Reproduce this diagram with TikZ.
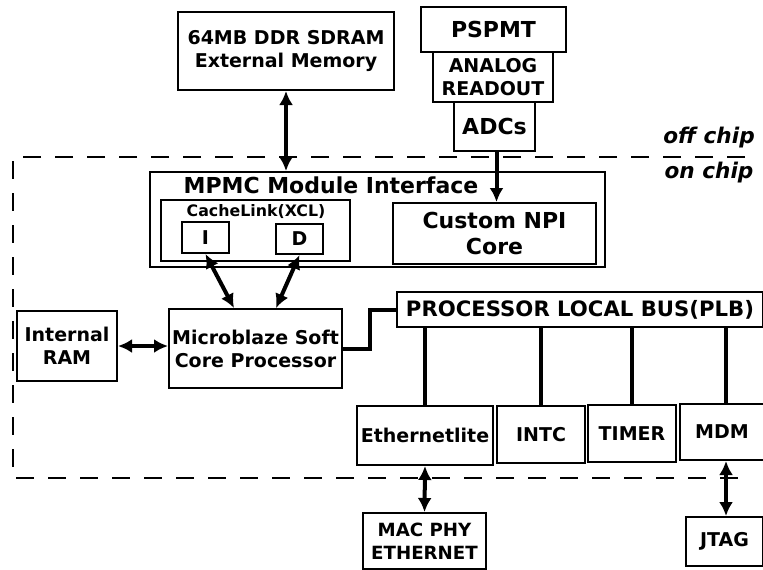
\documentclass[tikz,border=0pt]{standalone}
\usepackage{fontspec}
\setmainfont{DejaVu Sans}
\usetikzlibrary{arrows.meta}
\tikzset{
    blk/.style={draw,line width=1pt,inner sep=0pt,align=center,font=\fontsize{9.5}{11.5}\selectfont\bfseries},
    bigtext/.style={font=\fontsize{11}{13}\selectfont\bfseries},
    biarrow/.style={line width=2pt,{Latex[length=7pt,width=7pt]}-{Latex[length=7pt,width=7pt]}},
    onearrow/.style={line width=2pt,-{Latex[length=7pt,width=7pt]}},
    busline/.style={line width=2pt},
    chipline/.style={line width=1pt,dash pattern=on 9pt off 7pt},
    chiplabel/.style={font=\fontsize{10.8}{12}\selectfont\bfseries\itshape},
}
\begin{document}
\begin{tikzpicture}[x=0.5pt,y=-0.5pt]
\useasboundingbox (0,0) rectangle (763,569);
% off chip
\node[blk,minimum width=108pt,minimum height=39pt] (mem) at (286,51) {64MB DDR SDRAM\\External Memory};
\node[blk,bigtext,minimum width=72.5pt,minimum height=22.5pt] (pspmt) at (493.5,29.5) {PSPMT};
\node[blk,minimum width=60pt,minimum height=25pt] (analog) at (493,77) {ANALOG\\READOUT};
\node[blk,bigtext,minimum width=40.5pt,minimum height=24.5pt] (adc) at (494.5,126.5) {ADCs};
% chip border
\draw[chipline] (745,157) -- (13,157) -- (13,478) -- (752,478);
\node[chiplabel] (offchip) at (709,138) {off chip};
\node[chiplabel] (onchip) at (709,173) {on chip};
% memory interface
\node[blk,minimum width=227.5pt,minimum height=47.5pt] (mpmc) at (377.5,219.5) {};
\node[blk,bigtext,draw=none] (mpmctitle) at (331,185) {MPMC Module Interface};
\node[blk,minimum width=94.5pt,minimum height=30.5pt] (xcl) at (255.5,230.5) {};
\node[blk,draw=none,font=\fontsize{7.9}{9}\selectfont\bfseries] (xcltitle) at (256,212) {CacheLink(XCL)};
\node[blk,minimum width=23.5pt,minimum height=15.5pt] (icache) at (205.5,237.5) {I};
\node[blk,minimum width=23.5pt,minimum height=15pt] (dcache) at (299.5,239) {D};
\node[blk,bigtext,minimum width=101.5pt,minimum height=30.5pt] (npi) at (494.5,233.5) {Custom NPI\\Core};
% processor
\node[blk,minimum width=86.5pt,minimum height=39.5pt] (mb) at (255.5,348.5) {Microblaze Soft\\Core Processor};
\node[blk,minimum width=50pt,minimum height=35pt] (ram) at (67,346) {Internal\\RAM};
\node[blk,font=\fontsize{10.6}{12}\selectfont\bfseries,minimum width=183pt,minimum height=17.5pt] (plb) at (580,309.5) {PROCESSOR LOCAL BUS(PLB)};
% peripherals
\node[blk,minimum width=68pt,minimum height=29.5pt] (eth) at (425,435.5) {Ethernetlite};
\node[blk,minimum width=44pt,minimum height=28.5pt] (intc) at (541,434.5) {INTC};
\node[blk,minimum width=44pt,minimum height=28.5pt] (timer) at (632,433.5) {TIMER};
\node[blk,minimum width=42pt,minimum height=28pt] (mdm) at (722,432) {MDM};
\node[blk,font=\fontsize{9.1}{11.5}\selectfont\bfseries,minimum width=61.5pt,minimum height=28pt] (mac) at (424.5,541) {MAC PHY\\ETHERNET};
\node[blk,minimum width=38.5pt,minimum height=24.5pt] (jtag) at (724.5,541.5) {JTAG};
% connections
\draw[biarrow] (mem.south) -- (mem.south |- mpmc.north);
\draw[onearrow] ([xshift=1pt]adc.south) -- ([xshift=1pt]npi.north);
\draw[biarrow] (icache.south) -- ([xshift=-10.75pt]mb.north);
\draw[biarrow] (dcache.south) -- ([xshift=10.25pt]mb.north);
\draw[biarrow] (ram.east) -- (ram.east -| mb.west);
\draw[busline] (mb.east) -- ++(27,0) |- (plb.west);
\draw[busline] (eth.north) -- (eth.north |- plb.south);
\draw[busline] (intc.north) -- (intc.north |- plb.south);
\draw[busline] (timer.north) -- (timer.north |- plb.south);
\draw[busline] ([xshift=2pt]mdm.north) -- ([xshift=2pt]mdm.north |- plb.south);
\draw[biarrow] (eth.south) -- (mac.north);
\draw[biarrow] ([xshift=2pt]mdm.south) -- ([xshift=2pt]mdm.south |- jtag.north);
\end{tikzpicture}
\end{document}
